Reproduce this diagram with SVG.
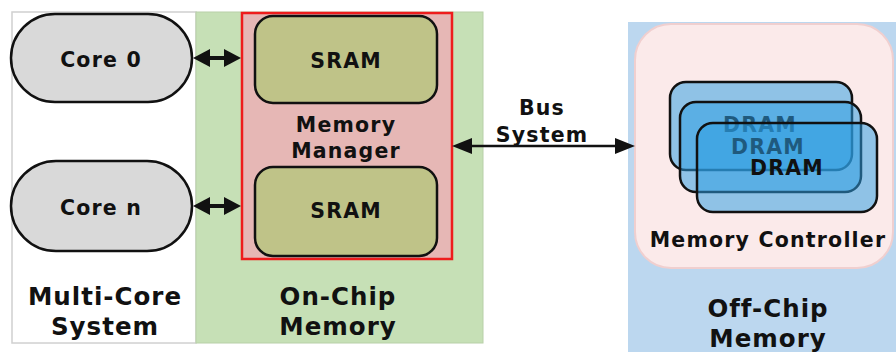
<svg xmlns="http://www.w3.org/2000/svg" width="896" height="352" viewBox="0 0 896 352">
  <style>
    text { font-family: "DejaVu Sans", Verdana, sans-serif; font-weight: bold; text-anchor: middle; fill: #111; }
    .big { font-size: 24.5px; letter-spacing: 1px; }
    .mid { font-size: 20.5px; letter-spacing: 1.2px; }
    .core { fill: #d9d9d9; stroke: #111; stroke-width: 2.5; }
    .sram { fill: #bfc388; stroke: #111; stroke-width: 2.5; }
    .dram { fill: #2d9ee2; fill-opacity: 0.52; stroke: #111; stroke-width: 2.5; }
    .shaft { stroke: #111; fill: none; }
    .head { fill: #111; stroke: none; }
  </style>

  <!-- panels -->
  <g id="multi-core-system">
    <rect x="12" y="12" width="184" height="331" fill="#ffffff" stroke="#d0d0d0" stroke-width="1.5"/>
    <text class="big" x="105" y="305">Multi-Core</text>
    <text class="big" x="105" y="335">System</text>
  </g>
  <g id="on-chip-memory">
    <rect x="196" y="12" width="287" height="331" fill="#c6e0b6" stroke="#b8d0a8" stroke-width="1"/>
    <text class="big" x="338" y="305">On-Chip</text>
    <text class="big" x="338" y="335">Memory</text>
  </g>
  <g id="off-chip-memory">
    <rect x="628" y="22" width="270" height="332" fill="#bcd7ef"/>
    <text class="big" x="768" y="317">Off-Chip</text>
    <text class="big" x="768" y="347">Memory</text>
  </g>

  <!-- cores -->
  <g id="core-0">
    <rect class="core" x="11" y="14" width="181" height="88" rx="44" ry="44"/>
    <text class="mid" x="101" y="67">Core 0</text>
  </g>
  <g id="core-n">
    <rect class="core" x="11" y="161" width="181" height="90" rx="45" ry="45"/>
    <text class="mid" x="101" y="215">Core n</text>
  </g>

  <!-- memory manager with SRAM banks -->
  <g id="memory-manager">
    <rect x="242" y="13" width="210" height="246" fill="#e6b7b5" stroke="#ee1c1c" stroke-width="2.5"/>
    <text class="mid" x="346" y="132">Memory</text>
    <text class="mid" x="346" y="158">Manager</text>
  </g>
  <g id="sram-0">
    <rect class="sram" x="255" y="16" width="182" height="87" rx="18" ry="18"/>
    <text class="mid" x="346" y="68">SRAM</text>
  </g>
  <g id="sram-1">
    <rect class="sram" x="255" y="167" width="182" height="89" rx="18" ry="18"/>
    <text class="mid" x="346" y="218">SRAM</text>
  </g>

  <!-- memory controller with stacked DRAM chips -->
  <g id="memory-controller">
    <rect x="635" y="24" width="258" height="244" rx="36" ry="36" fill="#fbeaea" stroke="#f0cfcf" stroke-width="2"/>
    <text class="mid" x="768" y="247">Memory Controller</text>
  </g>
  <g id="dram-stack">
    <rect class="dram" x="670" y="82" width="182" height="88" rx="16" ry="16"/>
    <text class="mid" x="760" y="132">DRAM</text>
    <rect class="dram" x="680" y="102" width="181" height="90" rx="16" ry="16"/>
    <text class="mid" x="768" y="154">DRAM</text>
    <rect class="dram" x="697" y="123" width="180" height="89" rx="16" ry="16"/>
    <text class="mid" x="787" y="175">DRAM</text>
  </g>

  <!-- connectors: double-headed links -->
  <g id="connectors">
    <g id="link-core0-sram">
      <line class="shaft" x1="208" y1="58" x2="226" y2="58" stroke-width="4"/>
      <path class="head" d="M193,58 L210,49 L210,67 z"/>
      <path class="head" d="M241,58 L224,49 L224,67 z"/>
    </g>
    <g id="link-coren-sram">
      <line class="shaft" x1="208" y1="206" x2="226" y2="206" stroke-width="4"/>
      <path class="head" d="M193,206 L210,197 L210,215 z"/>
      <path class="head" d="M241,206 L224,197 L224,215 z"/>
    </g>
    <g id="link-bus">
      <line class="shaft" x1="468" y1="146" x2="619" y2="146" stroke-width="2.5"/>
      <path class="head" d="M452,146 L472,138 L472,154 z"/>
      <path class="head" d="M635,146 L615,138 L615,154 z"/>
      <text class="mid" x="542" y="115">Bus</text>
      <text class="mid" x="542" y="142">System</text>
    </g>
  </g>
</svg>
